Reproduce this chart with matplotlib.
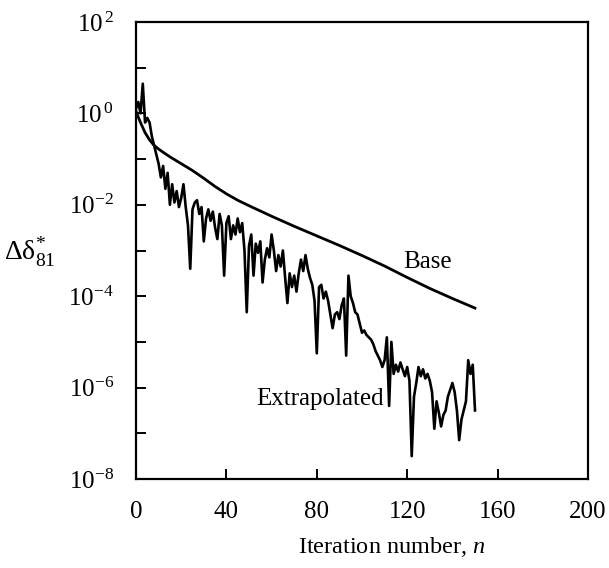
import numpy as np
import matplotlib
matplotlib.use("Agg")
import matplotlib.pyplot as plt
from matplotlib.ticker import NullFormatter, NullLocator

plt.rcParams["font.family"] = ["Liberation Serif", "DejaVu Serif"]
plt.rcParams["mathtext.fontset"] = "custom"
plt.rcParams["mathtext.rm"] = "Liberation Serif"
plt.rcParams["mathtext.it"] = "Liberation Serif:italic"
plt.rcParams["mathtext.bf"] = "Liberation Serif:bold"

# Base scheme: smooth convergence history (iteration, log10 of residual)
base_n = [0, 1, 2, 4, 6, 8, 10, 12, 15, 20, 25, 30, 35, 40, 45, 50, 60, 70,
          80, 90, 100, 110, 120, 130, 140, 150]
base_log10 = [0.05, -0.08, -0.2, -0.42, -0.58, -0.7, -0.78, -0.85, -0.95,
              -1.1, -1.25, -1.42, -1.6, -1.76, -1.9, -2.02, -2.25, -2.47,
              -2.68, -2.89, -3.11, -3.34, -3.59, -3.83, -4.05, -4.26]

# Extrapolated scheme: one value per iteration, n = 0..150 (log10 of residual)
extrap_log10 = [
    0.10, 0.25, 0.00, 0.65, -0.20, -0.10, -0.20, -0.50, -0.70, -0.90,
    -1.10, -1.40, -1.15, -1.65, -1.30, -2.00, -1.55, -1.95, -1.70, -2.05,
    -1.85, -1.55, -2.05, -2.45, -3.40, -2.10, -1.95, -1.90, -2.20, -2.05,
    -2.80, -2.30, -2.10, -2.35, -2.15, -2.50, -2.75, -2.20, -2.45, -3.55,
    -2.40, -2.25, -2.75, -2.45, -2.65, -2.30, -2.60, -2.40, -3.00, -4.35,
    -2.90, -2.65, -3.55, -2.85, -3.05, -2.80, -3.70, -3.20, -2.95, -3.15,
    -2.65, -3.00, -3.45, -3.10, -3.35, -3.00, -3.60, -4.15, -3.50, -3.80,
    -3.55, -3.90, -3.50, -3.20, -3.45, -3.10, -3.40, -3.60, -3.75, -4.10,
    -5.25, -3.80, -3.75, -4.05, -3.90, -4.10, -4.40, -4.70, -4.40, -4.35,
    -4.50, -4.20, -4.05, -5.30, -3.55, -4.00, -4.15, -4.35, -4.40, -4.60,
    -4.80, -4.75, -4.85, -4.90, -4.95, -5.05, -5.20, -5.30, -5.40, -5.55,
    -5.40, -4.90, -6.40, -5.00, -5.70, -5.50, -5.65, -5.45, -5.60, -5.75,
    -5.55, -5.85, -7.50, -6.20, -5.90, -5.55, -5.75, -5.60, -5.80, -5.70,
    -5.85, -6.10, -6.90, -6.30, -6.55, -6.85, -6.60, -6.50, -6.20, -6.05,
    -5.90, -6.10, -6.50, -7.15, -6.70, -6.50, -6.30, -5.40, -5.70, -5.50,
    -6.50,
]
extrap_n = list(range(len(extrap_log10)))

x_ticks = [0, 40, 80, 120, 160, 200]
y_major = [1e-8, 1e-6, 1e-4, 1e-2, 1e0, 1e2]
y_major_labels = [r"$10^{-8}$", r"$10^{-6}$", r"$10^{-4}$", r"$10^{-2}$",
                  r"$10^{\,0}$", r"$10^{\,2}$"]
y_minor = [1e-7, 1e-5, 1e-3, 1e-1, 1e1]

fig = plt.figure(figsize=(6.09, 5.68), dpi=100)
ax = fig.add_axes([136 / 609, 1 - 479 / 568, 452 / 609, 457 / 568])

ax.plot(base_n, np.power(10.0, base_log10), color="black", lw=2.0)
ax.plot(extrap_n, np.power(10.0, extrap_log10), color="black", lw=1.9)

ax.set_yscale("log")
ax.set_xlim(0, 200)
ax.set_ylim(1e-8, 1e2)
ax.set_xticks(x_ticks)
ax.set_xticklabels([str(t) for t in x_ticks], fontsize=18)
ax.set_yticks(y_major)
ax.set_yticklabels(y_major_labels, fontsize=18)
ax.set_yticks(y_minor, minor=True)
ax.yaxis.set_minor_formatter(NullFormatter())
ax.xaxis.set_minor_locator(NullLocator())

ax.tick_params(which="both", direction="in", length=7, width=1.4,
               top=False, right=False)
ax.tick_params(axis="y", which="major", pad=16)
ax.tick_params(axis="x", which="major", pad=16)
for s in ax.spines.values():
    s.set_linewidth(1.6)

ax.text(128.8, 10 ** -3.25, "Base", fontsize=18, ha="center", va="center")
ax.text(81.4, 10 ** -6.25, "Extrapolated", fontsize=18,
        ha="center", va="center")

fig.text(392 / 609, 1 - 547 / 568, r"Iteration number, $\mathit{n}$",
         fontsize=17.5, ha="center", va="center")
fig.text(30 / 609, 1 - 252 / 568, r"$\Delta\mathrm{\delta}^{*}_{81}$",
         fontsize=20, ha="center", va="center")

fig.savefig("out.png", dpi=100)
